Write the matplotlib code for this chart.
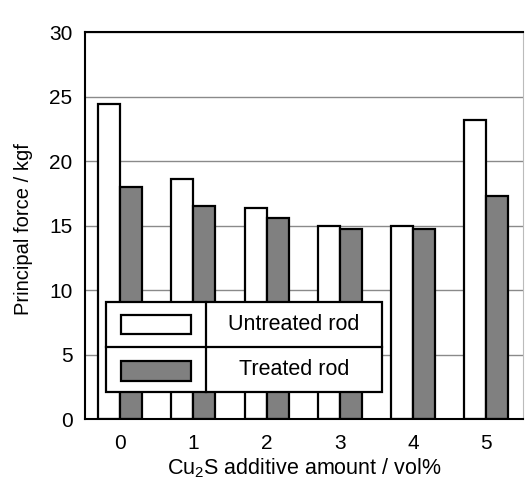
import matplotlib
matplotlib.use("Agg")
import matplotlib.pyplot as plt
from matplotlib.patches import Rectangle
import numpy as np

categories = ["0", "1", "2", "3", "4", "5"]
untreated = [24.4, 18.6, 16.4, 15.0, 15.0, 23.2]
treated = [18.0, 16.5, 15.6, 14.7, 14.7, 17.3]
series_names = ["Untreated rod", "Treated rod"]
yticks = [0, 5, 10, 15, 20, 25, 30]

plt.rcParams['font.family'] = ['Liberation Sans', 'DejaVu Sans']
plt.rcParams['mathtext.fontset'] = 'custom'
plt.rcParams['mathtext.rm'] = 'Liberation Sans'

fig = plt.figure(figsize=(5.25, 4.79), dpi=100)
ax = fig.add_axes([0.162, 0.125, 0.834, 0.808])

x = np.arange(len(categories))
w = 0.3
ax.set_axisbelow(True)
ax.yaxis.grid(True, color='#8a8a8a', lw=1.0)
ax.bar(x - w/2, untreated, w, color='white', edgecolor='black', lw=1.6, zorder=2)
ax.bar(x + w/2, treated, w, color='#808080', edgecolor='black', lw=1.6, zorder=2)

ax.set_xlim(-0.48, 5.5)
ax.set_ylim(0, 30)
ax.set_yticks(yticks)
ax.set_xticks(x)
ax.set_xticklabels(categories)
ax.tick_params(length=0, labelsize=15)
ax.tick_params(axis='x', pad=11)
ax.tick_params(axis='y', pad=9)
for s in ax.spines.values():
    s.set_linewidth(1.5)
ax.spines['right'].set_color('#bbbbbb')
ax.spines['right'].set_linewidth(0.8)

ax.set_xlabel("Cu$_\\mathrm{2}$S additive amount / vol%", fontsize=15.5, labelpad=2)
ax.set_ylabel("Principal force / kgf", fontsize=14.5)
ax.yaxis.set_label_coords(-0.118, 0.49)

# table-style legend
T = ax.transAxes
x0, x1, xd = 0.048, 0.678, 0.276
y0, y1, yd = 0.070, 0.302, 0.186
ax.add_patch(Rectangle((x0, y0), x1 - x0, y1 - y0, transform=T, facecolor='white',
                       edgecolor='black', lw=1.6, zorder=5))
ax.plot([xd, xd], [y0, y1], transform=T, color='black', lw=1.6, zorder=6)
ax.plot([x0, x1], [yd, yd], transform=T, color='black', lw=1.6, zorder=6)
ax.add_patch(Rectangle((0.082, 0.220), 0.160, 0.049, transform=T, facecolor='white',
                       edgecolor='black', lw=1.6, zorder=6))
ax.add_patch(Rectangle((0.082, 0.098), 0.160, 0.052, transform=T, facecolor='#808080',
                       edgecolor='black', lw=1.6, zorder=6))
ax.text(0.477, 0.244, series_names[0], transform=T, ha='center', va='center', fontsize=15.5, zorder=7)
ax.text(0.477, 0.128, series_names[1], transform=T, ha='center', va='center', fontsize=15.5, zorder=7)

fig.savefig("out.png", dpi=100, facecolor='white')
